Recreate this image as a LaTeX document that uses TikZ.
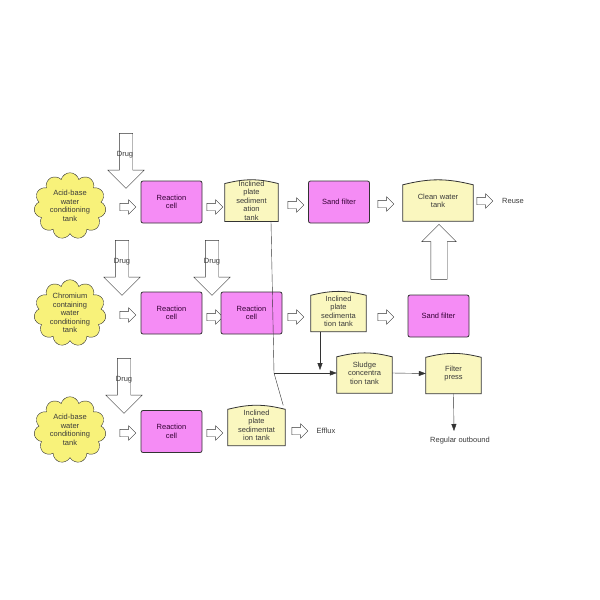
\documentclass[tikz,border=0pt]{standalone}
\usepackage{fontspec}
\setmainfont{Liberation Sans}
\usetikzlibrary{shapes.symbols,shapes.arrows,backgrounds,arrows.meta}
\definecolor{cellfill}{HTML}{F58CF5}
\definecolor{tankfill}{HTML}{FAF7BF}
\definecolor{cloudfill}{HTML}{F8F27A}
\definecolor{txt}{HTML}{3A3A3A}
\tikzset{
  every node/.style={font=\fontsize{7.5}{8.5}\selectfont, text=txt, align=center},
  cell/.style={rectangle, rounded corners=2pt, draw=black!80, thick, fill=cellfill, minimum width=61pt, minimum height=42pt, text=black!60!violet},
  tank/.style={rectangle, minimum width=#1, minimum height=40pt, inner sep=1pt, text width=#1},
  cloudy/.style={cloud, cloud puffs=11, draw=black!80, fill=cloudfill, minimum width=72pt, minimum height=52pt, inner sep=0pt},
  flow/.style={single arrow, draw=black!80, fill=white, minimum height=16pt, single arrow head extend=3.5pt, inner sep=0pt},
  dose/.style={single arrow, draw=black!80, fill=white, rotate=-90, minimum height=55pt, single arrow head extend=11.5pt, inner sep=0pt},
  link/.style={-{Triangle[length=7pt,width=5pt]}, black!80},
}
\newcommand{\tankshape}[1]{%
  \begin{scope}[on background layer]
    \draw[fill=tankfill, draw=black!80, thick] (#1.south west) -- ([yshift=-4pt]#1.north west)
      to[bend left=14] ([yshift=-4pt]#1.north east) -- (#1.south east) -- cycle;
  \end{scope}}
\newcommand{\shaft}[1]{\rule{0pt}{#1}}
\begin{document}
\begin{tikzpicture}[x=1pt,y=-1pt]
\useasboundingbox (0,0) rectangle (600,600);
% row 1
\node[cloudy] (cl1) at (70,206) {Acid-base\\water\\conditioning\\tank};
\node[flow] (f11) at (126,207) {\shaft{7pt}};
\node[cell] (rc1) at (171.5,202) {Reaction\\cell};
\node[flow] (f12) at (213,207) {\shaft{7pt}};
\node[tank=51pt] (tk1) at (251.5,200.5) {Inclined\\plate\\sediment\\ation\\tank};
\tankshape{tk1}
\node[flow] (f13) at (294,205) {\shaft{7pt}};
\node[cell] (sf1) at (339,202) {Sand filter};
\node[flow] (f14) at (384,204) {\shaft{7pt}};
\node[tank=68pt] (cw) at (438,201) {Clean water\\tank};
\tankshape{cw}
\node[flow] (f15) at (483,201) {\shaft{7pt}};
\node (reuse) at (513,201) {Reuse};
\node[dose] (d1) at (126,157.5) {\shaft{13pt}};
\node (d1t) at (125,155) {Drug};
\node[single arrow, draw=black!80, fill=white, rotate=90, minimum height=55pt, single arrow head extend=9pt, inner sep=0pt] (up) at (439,256) {\shaft{16pt}};
% row 2
\node[cloudy] (cl2) at (70,313) {Chromium\\containing\\water\\conditioning\\tank};
\node[flow] (f21) at (126,315) {\shaft{7pt}};
\node[cell] (rc2) at (171.5,313) {Reaction\\cell};
\node[flow] (f22) at (213,317) {\shaft{7pt}};
\node[cell] (rc3) at (251.5,313) {Reaction\\cell};
\node[flow] (f23) at (294,317) {\shaft{7pt}};
\node[tank=53pt] (tk2) at (338.5,311.5) {Inclined\\plate\\sedimenta\\tion tank};
\tankshape{tk2}
\node[flow] (f24) at (384,317) {\shaft{7pt}};
\node[cell] (sf2) at (438.5,316) {Sand filter};
\node[dose] (d2) at (122,264.5) {\shaft{13pt}};
\node (d2t) at (122,262) {Drug};
\node[dose] (d3) at (212,264.5) {\shaft{13pt}};
\node (d3t) at (212,262) {Drug};
% row 3
\node[cloudy] (cl3) at (70,430) {Acid-base\\water\\conditioning\\tank};
\node[dose] (d4) at (124,382.5) {\shaft{13pt}};
\node (d4t) at (124,380) {Drug};
\node[flow] (f31) at (126,433) {\shaft{7pt}};
\node[cell] (rc4) at (171.5,431.5) {Reaction\\cell};
\node[flow] (f32) at (213,433) {\shaft{7pt}};
\node[tank=55pt] (tk3) at (256.5,425.5) {Inclined\\plate\\sedimentat\\ion tank};
\tankshape{tk3}
\node[flow] (f33) at (298,431) {\shaft{7pt}};
\node (efflux) at (326,431) {Efflux};
% sludge line
\node[tank=53pt] (sl) at (364.5,373) {Sludge\\concentra\\tion tank};
\tankshape{sl}
\node[tank=53pt] (fp) at (453.5,373.5) {Filter\\press};
\tankshape{fp}
\node (out) at (460,441) {Regular outbound};
\coordinate (jn) at (274,373);
\draw[black!80] (tk1.south -| 271,0) -- (jn) -- ([xshift=-2pt]tk3.north east);
\draw[link] (jn) -- (sl.west);
\draw[link] (tk2.south -| 320,0) -- (320,370);
\draw[link] (sl.east) -- (fp.west);
\draw[link] (fp.south) -- (454,431);
\end{tikzpicture}
\end{document}
